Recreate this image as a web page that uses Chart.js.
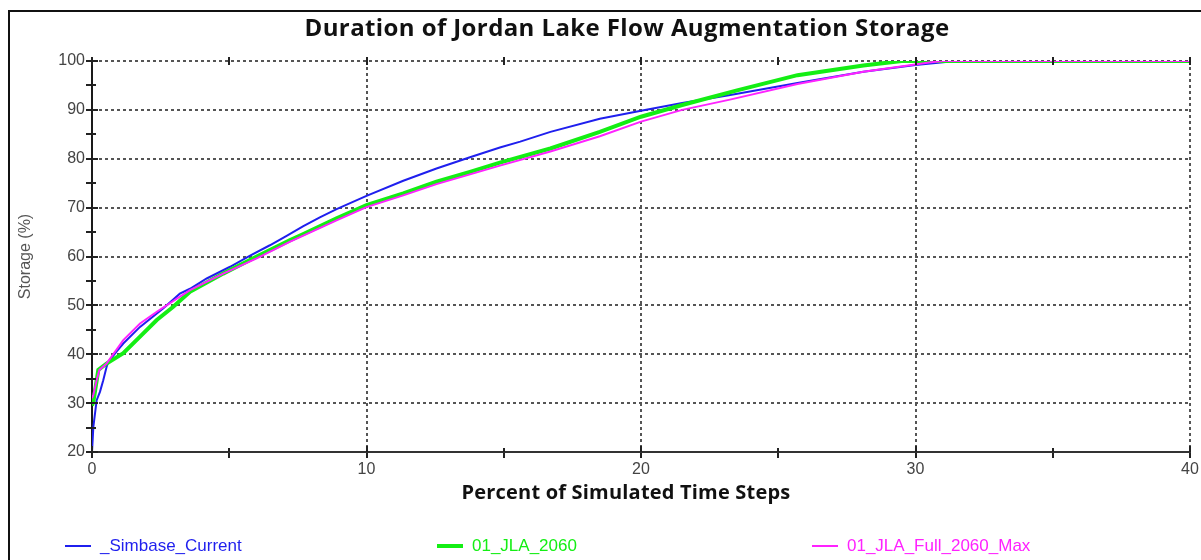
<!DOCTYPE html>
<html>
<head>
<meta charset="utf-8">
<script src="https://cdn.jsdelivr.net/npm/chart.js@4.4.1/dist/chart.umd.min.js"></script>
<style>
  body { margin: 0; background: #fff; }
  #lienzo { position: relative; width: 1201px; height: 560px; overflow: hidden; background: #fff; }
  #grafica { position: absolute; left: 0; top: 0; }
  #marco { position: absolute; left: 8px; top: 10px; width: 1230px; height: 600px;
           border-left: 2px solid #111; border-top: 2px solid #111; pointer-events: none; }
  #titulo { position: absolute; left: 0; top: 10px; width: 1254px; text-align: center;
            font: bold 24px 'Open Sans'; letter-spacing: 0.4px; color: #111; }
  #titulo-x { position: absolute; left: 0; top: 478px; width: 1252px; text-align: center;
              font: bold 20px 'Open Sans'; letter-spacing: 0.2px; color: #111; }
  .item { position: absolute; top: 536px; display: flex; align-items: center;
          font: 17px 'Liberation Sans', sans-serif; white-space: nowrap; }
  .raya { display: inline-block; width: 26px; margin-right: 9px; }
</style>
</head>
<body>
<div id="lienzo">
  <canvas id="grafica" width="1201" height="560"></canvas>
  <div id="marco"></div>
  <div id="titulo">Duration of Jordan Lake Flow Augmentation Storage</div>
  <div id="titulo-x">Percent of Simulated Time Steps</div>
  <div id="leyenda"></div>
</div>
<script>
// Curvas de duración: % de pasos de tiempo (x) frente a almacenamiento (%)
const nombres = ['_Simbase_Current', '01_JLA_2060', '01_JLA_Full_2060_Max'];

const simbaseX = [0, 0.05, 0.17, 0.29, 0.41, 0.53, 0.6, 0.9, 1.14, 1.75, 2.6, 3.2, 3.57, 4.18, 5.03, 5.76, 6.48, 7.09, 7.7, 8.3, 8.91, 10.0, 11.34, 12.55, 13.77, 14.86, 15.6, 16.7, 18.5, 20.0, 21.5, 23.2, 25.7, 28.1, 30.0, 31.1, 31.4, 40];
const simbaseY = [20, 25.2, 30.6, 32.3, 34.7, 37.4, 38.5, 40.6, 42.2, 45.6, 49.4, 52.4, 53.4, 55.5, 57.9, 60.2, 62.3, 64.2, 66.2, 68.0, 69.7, 72.4, 75.5, 78.0, 80.3, 82.3, 83.5, 85.5, 88.2, 89.8, 91.4, 93.0, 95.5, 97.8, 99.2, 99.8, 100, 100];

const jla2060X = [0, 0.05, 0.23, 0.53, 1.14, 1.75, 2.36, 2.96, 3.57, 4.78, 6.0, 6.48, 7.2, 7.7, 8.91, 10.0, 11.34, 12.55, 13.77, 14.86, 16.7, 18.5, 20.0, 21.5, 23.5, 25.7, 28.1, 29.5, 40];
const jla2060Y = [29.5, 30.3, 36.8, 38.1, 40.2, 43.6, 47.0, 49.7, 52.8, 56.5, 60.0, 61.3, 63.3, 64.6, 67.8, 70.5, 72.9, 75.3, 77.3, 79.2, 82.1, 85.5, 88.6, 91.0, 94.0, 97.1, 99.1, 100, 100];

const jlaMaxX = [0, 0.05, 0.17, 0.27, 0.53, 1.14, 1.75, 2.36, 3.57, 4.78, 6.0, 7.2, 8.91, 10.0, 11.34, 12.55, 13.77, 14.86, 16.7, 18.5, 20.0, 21.5, 23.24, 25.7, 28.1, 30.5, 31.0, 40];
const jlaMaxY = [31.0, 31.7, 34.7, 36.8, 38.1, 42.9, 46.3, 48.7, 53.1, 56.5, 59.6, 63.0, 67.4, 70.1, 72.5, 74.8, 76.8, 78.6, 81.5, 84.6, 87.6, 90.0, 92.1, 95.3, 97.8, 99.7, 100, 100];

function puntos(xs, ys) {
    return xs.map((x, i) => ({ x: x, y: ys[i] }));
}

// marcas de los ejes hacia dentro del área (y arriba)
const marcasInternas = {
    id: 'marcasInternas',
    afterDraw(chart) {
        const { ctx, chartArea, scales } = chart;
        ctx.save();
        ctx.strokeStyle = '#222';
        ctx.lineWidth = 2;
        scales.y.ticks.forEach(t => {
            const py = Math.round(scales.y.getPixelForValue(t.value));
            const largo = t.value % 10 === 0 ? 6 : 4;
            ctx.beginPath();
            ctx.moveTo(chartArea.left, py);
            ctx.lineTo(chartArea.left + largo, py);
            ctx.stroke();
        });
        scales.x.ticks.forEach(t => {
            const px = Math.round(scales.x.getPixelForValue(t.value));
            const largo = t.value % 10 === 0 ? 6 : 4;
            ctx.beginPath();
            ctx.moveTo(px, chartArea.bottom);
            ctx.lineTo(px, chartArea.bottom - largo);
            ctx.moveTo(px, chartArea.top - 4);
            ctx.lineTo(px, chartArea.top + 4);
            ctx.stroke();
        });
        ctx.restore();
    }
};

const colorGrid = ctx => (ctx.tick && ctx.tick.value % 10 === 0 && ctx.index > 0) ? '#555' : 'rgba(0,0,0,0)';

const ctx = document.getElementById('grafica').getContext('2d');

const grafica = new Chart(ctx, {
    type: 'line',
    data: {
        datasets: [{
            label: nombres[0],
            data: puntos(simbaseX, simbaseY),
            borderColor: '#1f1fee',
            borderWidth: 2,
            order: 3
        }, {
            label: nombres[1],
            data: puntos(jla2060X, jla2060Y),
            borderColor: '#14ee14',
            borderWidth: 4,
            order: 2
        }, {
            label: nombres[2],
            data: puntos(jlaMaxX, jlaMaxY),
            borderColor: '#ff22ff',
            borderWidth: 2,
            order: 1
        }]
    },
    options: {
        responsive: false,
        animation: false,
        layout: { padding: { left: 0, top: 61, right: 11, bottom: 78 } },
        elements: { point: { radius: 0 }, line: { tension: 0 } },
        plugins: { legend: { display: false }, tooltip: { enabled: false } },
        scales: {
            x: {
                type: 'linear',
                min: 0,
                max: 40,
                afterFit: s => { s.height = 30; s.paddingLeft = 0; s.paddingRight = 0; },
                grid: { color: colorGrid, lineWidth: 2, tickLength: 6, tickColor: '#222', tickWidth: 2 },
                border: { display: true, color: '#333', width: 2, dash: [3, 3] },
                ticks: {
                    stepSize: 5,
                    autoSkip: false,
                    maxRotation: 0,
                    padding: 2,
                    color: '#444',
                    font: { family: 'Liberation Sans', size: 16 },
                    callback: v => v % 10 === 0 ? v : ''
                }
            },
            y: {
                min: 20,
                max: 100,
                afterFit: s => { s.width = 92; s.paddingTop = 0; s.paddingBottom = 0; },
                grid: { color: colorGrid, lineWidth: 2, tickLength: 6, tickColor: '#222', tickWidth: 2 },
                border: { display: true, color: '#1a1a1a', width: 2, dash: [3, 3] },
                title: {
                    display: true,
                    text: 'Storage (%)',
                    color: '#555',
                    font: { family: 'Liberation Sans', size: 16 },
                    padding: { top: 16, bottom: 0 }
                },
                ticks: {
                    stepSize: 5,
                    autoSkip: false,
                    padding: 1,
                    color: '#444',
                    font: { family: 'Liberation Sans', size: 16 },
                    callback: v => v % 10 === 0 ? v : ''
                }
            }
        }
    },
    plugins: [marcasInternas]
});

// leyenda abajo, una entrada por serie
const posLeyenda = [65, 437, 812];
const leyenda = document.getElementById('leyenda');
grafica.data.datasets.forEach((ds, i) => {
    const item = document.createElement('div');
    item.className = 'item';
    item.style.left = posLeyenda[i] + 'px';
    item.style.color = ds.borderColor;
    item.innerHTML = `<span class="raya" style="height:${ds.borderWidth}px;background:${ds.borderColor}"></span>${ds.label}`;
    leyenda.appendChild(item);
});
</script>
</body>
</html>
